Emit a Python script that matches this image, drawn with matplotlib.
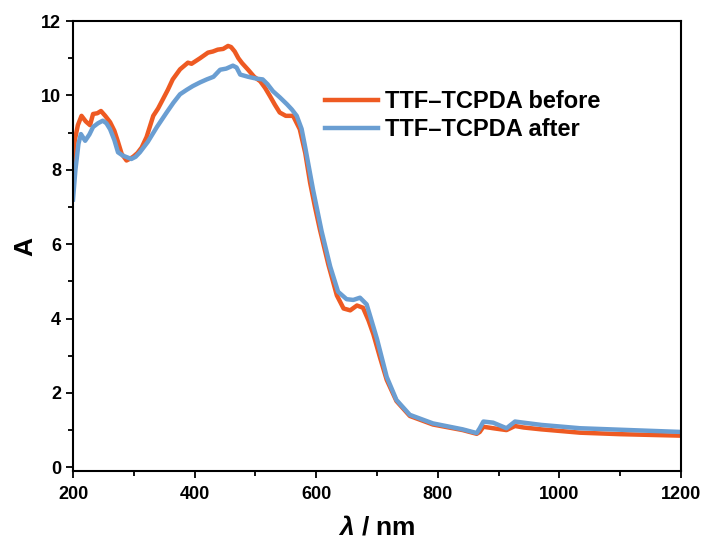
import matplotlib
matplotlib.use("Agg")
import matplotlib.pyplot as plt
from matplotlib.ticker import MultipleLocator

plt.rcParams['font.family'] = ['Liberation Sans', 'DejaVu Sans']
plt.rcParams['font.weight'] = 'bold'
plt.rcParams['mathtext.fontset'] = 'custom'
plt.rcParams['mathtext.it'] = 'Liberation Sans:italic:bold'
plt.rcParams['mathtext.rm'] = 'Liberation Sans:bold'

# TTF-TCPDA before
wl_before = [200, 203, 208, 214, 221, 228, 233, 240, 246, 253, 261, 268, 274, 280,
             288, 294, 299, 306, 313, 321, 332, 340, 348, 356, 364, 376, 389, 395,
             409, 422, 430, 438, 447, 455, 460, 466, 472, 478, 488, 498, 508, 516,
             524, 532, 540, 550, 562, 573, 582, 590, 598, 606, 620, 634, 645, 656,
             667, 677, 686, 694, 705, 716, 732, 754, 792, 841, 864, 869, 875, 891,
             913, 927, 941, 970, 1034, 1100, 1150, 1200]
a_before = [8.2, 8.8, 9.2, 9.45, 9.3, 9.2, 9.5, 9.52, 9.58, 9.45, 9.28, 9.05, 8.75, 8.43,
            8.25, 8.3, 8.35, 8.45, 8.6, 8.88, 9.45, 9.65, 9.9, 10.15, 10.43, 10.7, 10.88, 10.85,
            11.0, 11.15, 11.18, 11.23, 11.25, 11.33, 11.3, 11.18, 11.0, 10.87, 10.69, 10.5, 10.38, 10.2,
            9.98, 9.75, 9.54, 9.45, 9.45, 9.09, 8.45, 7.65, 7.0, 6.4, 5.45, 4.62, 4.27, 4.22,
            4.35, 4.29, 3.95, 3.58, 2.95, 2.35, 1.78, 1.38, 1.15, 1.0, 0.9, 0.95, 1.09, 1.05,
            1.0, 1.11, 1.07, 1.02, 0.93, 0.89, 0.87, 0.85]

# TTF-TCPDA after
wl_after = [200, 204, 209, 213, 220, 227, 233, 241, 249, 255, 261, 268, 274, 282,
            296, 303, 310, 323, 338, 354, 365, 376, 387, 397, 409, 420, 431, 442,
            452, 463, 469, 475, 488, 502, 512, 520, 529, 540, 552, 560, 568, 576,
            582, 595, 609, 623, 636, 650, 661, 672, 683, 690, 700, 716, 732, 754,
            792, 841, 864, 869, 875, 891, 913, 927, 941, 970, 1034, 1100, 1150, 1200]
a_after = [7.2, 8.0, 8.7, 8.96, 8.78, 8.95, 9.15, 9.25, 9.32, 9.25, 9.09, 8.8, 8.47, 8.38,
           8.29, 8.35, 8.47, 8.75, 9.15, 9.54, 9.8, 10.03, 10.15, 10.25, 10.35, 10.43, 10.5, 10.69,
           10.72, 10.8, 10.75, 10.56, 10.5, 10.45, 10.43, 10.3, 10.11, 9.95, 9.76, 9.62, 9.45, 9.1,
           8.6, 7.45, 6.34, 5.4, 4.72, 4.52, 4.5, 4.56, 4.38, 4.0, 3.45, 2.43, 1.81, 1.41,
           1.18, 1.02, 0.92, 1.05, 1.23, 1.2, 1.05, 1.23, 1.2, 1.14, 1.05, 1.01, 0.98, 0.95]

fig = plt.figure(figsize=(7.04, 5.43), dpi=100)
ax = fig.add_axes([0.1037, 0.1326, 0.8636, 0.8287])

ax.plot(wl_before, a_before, color='#EE5A22', lw=3.2, label='TTF\u2013TCPDA before')
ax.plot(wl_after, a_after, color='#6A9ED2', lw=3.2, label='TTF\u2013TCPDA after')

ax.set_xlim(200, 1200)
ax.set_ylim(-0.1, 12)
ax.xaxis.set_major_locator(MultipleLocator(200))
ax.xaxis.set_minor_locator(MultipleLocator(100))
ax.yaxis.set_major_locator(MultipleLocator(2))
ax.yaxis.set_minor_locator(MultipleLocator(1))
ax.tick_params(which='both', direction='out', width=1.3, labelsize=13, top=False, right=False)
ax.tick_params(which='major', length=5)
ax.tick_params(which='minor', length=3.5)
ax.tick_params(axis='x', pad=6)
for s in ax.spines.values():
    s.set_linewidth(1.5)

ax.set_xlabel(r'$\lambda$ / nm', fontsize=19, fontweight='bold', labelpad=9)
ax.set_ylabel('A', fontsize=19, fontweight='bold', labelpad=3)

ax.legend(loc='upper left', bbox_to_anchor=(0.395, 0.872), frameon=False,
          fontsize=17, handlelength=2.25, handletextpad=0.3, labelspacing=0.2,
          borderpad=0)

fig.savefig('out.png', dpi=100)
